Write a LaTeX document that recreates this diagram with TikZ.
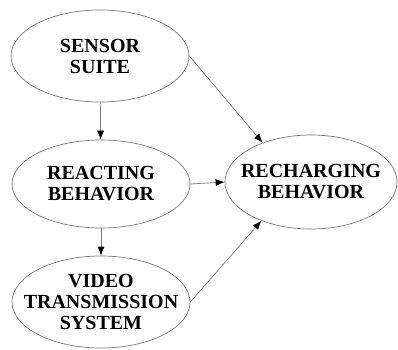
\documentclass[tikz,border=0pt]{standalone}
\usepackage{fontspec}
\setmainfont{Liberation Serif}
\usepackage{tikz}
\usetikzlibrary{shapes,arrows.meta,positioning}
\definecolor{edgegray}{RGB}{120, 120, 120}

\tikzset{
  block/.style={ellipse, draw=edgegray, line width=0.7pt, inner sep=-20pt,
    minimum width=178pt, minimum height=92pt, align=center,
    font=\fontsize{20}{21}\selectfont\bfseries},
  link/.style={draw=edgegray, line width=0.7pt, -{Latex[black,length=9pt,width=7pt]}}
}

\begin{document}
\begin{tikzpicture}[x=1pt,y=1pt]
\useasboundingbox (0,0) rectangle (398,349);
\node [block] (sensor) at (100,293) {SENSOR\\SUITE};
\node [block, minimum height=88pt] (reacting) at (101,165) {REACTING\\BEHAVIOR};
\node [block] (video) at (101,47) {VIDEO\\TRANSMISSION\\SYSTEM};
\node [block, minimum width=172pt, minimum height=94pt] (recharging) at (311,167) {RECHARGING\\BEHAVIOR};

\draw [link] (sensor) -- (reacting);
\draw [link] (reacting) -- (video);
\draw [link] (reacting.east) -- (recharging.west);
\draw [link] (sensor.east) -- (recharging.141); % from the top
\draw [link] (video.east) -- (recharging.218); % from the bottom
\end{tikzpicture}
\end{document}
